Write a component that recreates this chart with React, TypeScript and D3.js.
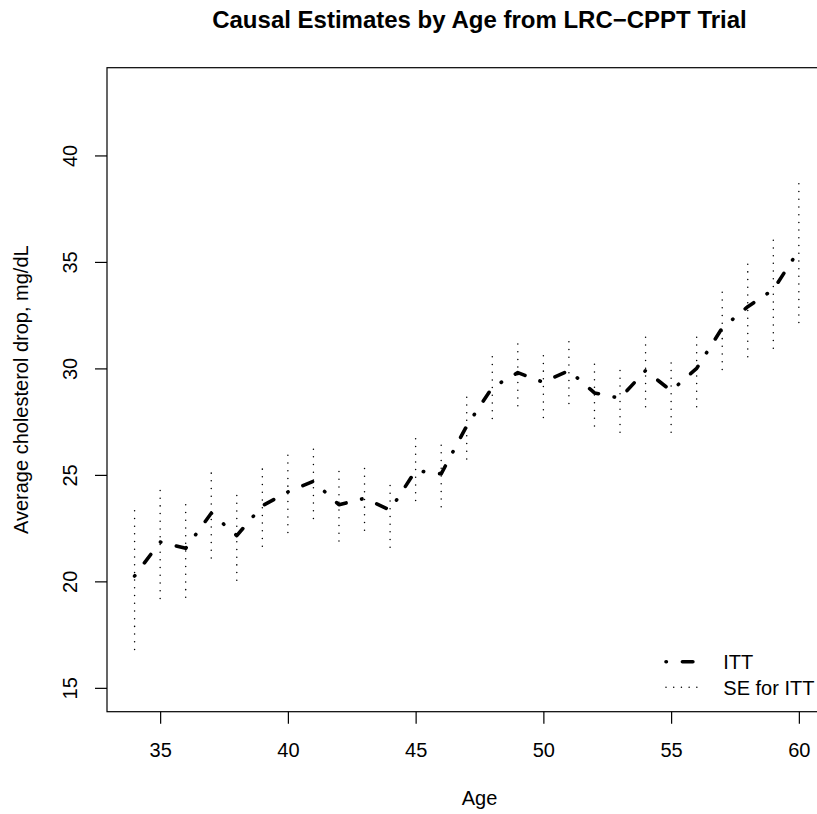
import React, { useEffect, useRef } from "react";
import * as d3 from "d3";

// ages on the x axis
const ages = [34, 35, 36, 37, 38, 39, 40, 41, 42, 43, 44, 45, 46, 47, 48, 49, 50, 51, 52, 53, 54, 55, 56, 57, 58, 59, 60];

// ITT estimate per age
const itt = [20.25, 21.85, 21.55, 23.2, 22.15, 23.55, 24.2, 24.7, 23.6, 23.9, 23.35, 25.2, 25.05, 27.3, 29.1, 29.8, 29.35, 29.9, 28.85, 28.6, 29.9, 28.95, 30.0, 31.9, 32.9, 33.7, 35.55];

// SE band ends
const seLower = [16.8, 19.2, 19.25, 21.1, 20.05, 21.65, 22.3, 22.95, 21.9, 22.4, 21.6, 23.8, 23.5, 25.75, 27.65, 28.25, 27.7, 28.35, 27.3, 27.0, 28.2, 27.0, 28.2, 29.95, 30.55, 30.95, 32.15];
const seUpper = [23.6, 24.45, 23.8, 25.3, 24.2, 25.4, 26.1, 26.35, 25.3, 25.45, 24.6, 26.85, 26.55, 28.75, 30.7, 31.3, 30.75, 31.45, 30.35, 30.0, 31.6, 30.4, 31.65, 33.8, 35.05, 36.3, 38.95];

const xTicks = [35, 40, 45, 50, 55, 60];
const yTicks = [15, 20, 25, 30, 35, 40];
const legendLabels = ["ITT", "SE for ITT"];

const FONT = "'Liberation Sans', Arial, Helvetica, sans-serif";
const ITT_DASH = "0.4 16 10.5 16";
const SE_DASH = "0.01 7.7";

function App() {
  const ref = useRef<SVGSVGElement | null>(null);

  useEffect(() => {
    const width = 817;
    const height = 814;
    const left = 107;
    const right = 852; // box runs off the right edge
    const top = 67.7;
    const bottom = 711.7;

    const svg = d3.select(ref.current);
    svg.selectAll("*").remove();

    // xlim c(34,61), ylim c(15,43), R's 4% extension
    const x = d3.scaleLinear().domain([32.92, 62.08]).range([left, right]);
    const y = d3.scaleLinear().domain([13.88, 44.12]).range([bottom, top]);

    svg
      .append("rect")
      .attr("x", 0)
      .attr("y", 0)
      .attr("width", width)
      .attr("height", height)
      .attr("fill", "white");

    // SE bars, dotted
    svg
      .append("g")
      .selectAll("line")
      .data(ages)
      .join("line")
      .attr("x1", (d) => x(d))
      .attr("x2", (d) => x(d))
      .attr("y1", (d, i) => y(seLower[i]))
      .attr("y2", (d, i) => y(seUpper[i]))
      .attr("stroke", "black")
      .attr("stroke-width", 1.5)
      .attr("stroke-linecap", "round")
      .attr("stroke-dasharray", SE_DASH);

    // ITT line, dot-dash
    const line = d3
      .line<number>()
      .x((d) => x(d))
      .y((d, i) => y(itt[i]));

    svg
      .append("path")
      .datum(ages)
      .attr("fill", "none")
      .attr("stroke", "black")
      .attr("stroke-width", 3.6)
      .attr("stroke-linecap", "round")
      .attr("stroke-linejoin", "round")
      .attr("stroke-dasharray", ITT_DASH)
      .attr("d", line);

    // box
    svg
      .append("rect")
      .attr("x", left)
      .attr("y", top)
      .attr("width", right - left)
      .attr("height", bottom - top)
      .attr("fill", "none")
      .attr("stroke", "black")
      .attr("stroke-width", 1.2);

    const xAxis = svg
      .append("g")
      .attr("transform", `translate(0,${bottom})`)
      .call(d3.axisBottom(x).tickValues(xTicks).tickSize(12).tickPadding(19).tickFormat(d3.format("d")));
    xAxis.select(".domain").remove();
    xAxis.selectAll("line").attr("stroke", "black").attr("stroke-width", 1.2);
    xAxis.selectAll("text").attr("font-size", 20).attr("font-family", FONT).attr("fill", "black");

    const yAxis = svg
      .append("g")
      .attr("transform", `translate(${left},0)`)
      .call(d3.axisLeft(y).tickValues(yTicks).tickSize(12).tickFormat(d3.format("d")));
    yAxis.select(".domain").remove();
    yAxis.selectAll("line").attr("stroke", "black").attr("stroke-width", 1.2);
    yAxis
      .selectAll("text")
      .attr("x", null)
      .attr("dy", null)
      .attr("transform", "translate(-30,0) rotate(-90)")
      .attr("text-anchor", "middle")
      .attr("font-size", 20)
      .attr("font-family", FONT)
      .attr("fill", "black");

    const midX = (left + right) / 2;

    svg
      .append("text")
      .attr("x", midX)
      .attr("y", 28)
      .attr("text-anchor", "middle")
      .attr("font-family", FONT)
      .attr("font-weight", "bold")
      .attr("font-size", 24)
      .text("Causal Estimates by Age from LRC\u2212CPPT Trial");

    svg
      .append("text")
      .attr("x", midX)
      .attr("y", 804.6)
      .attr("text-anchor", "middle")
      .attr("font-family", FONT)
      .attr("font-size", 20)
      .text("Age");

    svg
      .append("text")
      .attr("transform", `translate(28,${(top + bottom) / 2}) rotate(-90)`)
      .attr("text-anchor", "middle")
      .attr("font-family", FONT)
      .attr("font-size", 20)
      .text("Average cholesterol drop, mg/dL");

    // legend, no box
    const legend = svg.append("g");
    const rows = [
      { label: legendLabels[0], cy: 661.7, width: 3.6, dash: ITT_DASH },
      { label: legendLabels[1], cy: 687.3, width: 1.5, dash: SE_DASH },
    ];
    rows.forEach((r) => {
      legend
        .append("line")
        .attr("x1", 666)
        .attr("x2", 697)
        .attr("y1", r.cy)
        .attr("y2", r.cy)
        .attr("stroke", "black")
        .attr("stroke-width", r.width)
        .attr("stroke-linecap", "round")
        .attr("stroke-dasharray", r.dash);
      legend
        .append("text")
        .attr("x", 723.3)
        .attr("y", r.cy + 7.2)
        .attr("font-family", FONT)
        .attr("font-size", 20)
        .text(r.label);
    });
  }, []);

  return (
    <svg
      ref={ref}
      width={817}
      height={814}
      style={{ position: "absolute", left: 0, top: 0, display: "block" }}
    />
  );
}

export default App;
